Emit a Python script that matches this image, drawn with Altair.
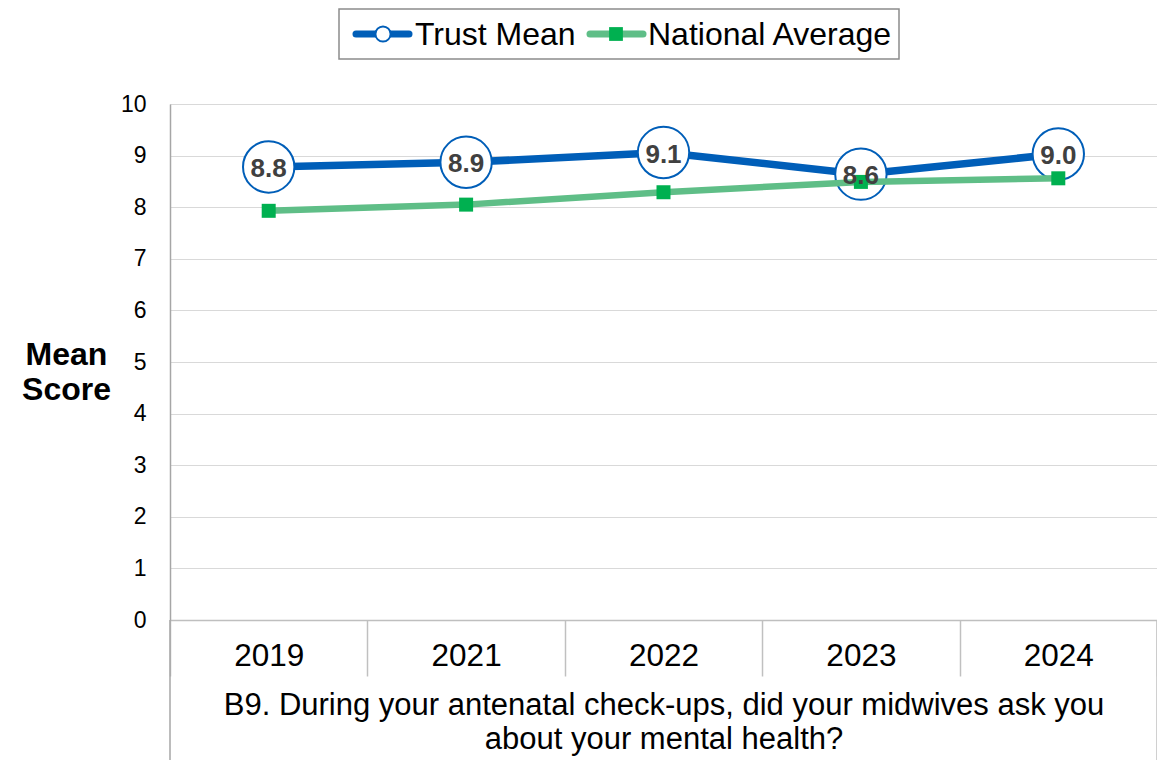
import altair as alt
import pandas as pd

# ---- data ----
years = ["2019", "2021", "2022", "2023", "2024"]
trust_mean = [8.78, 8.87, 9.06, 8.64, 9.03]
national_avg = [7.93, 8.05, 8.29, 8.49, 8.56]
series_names = ["Trust Mean", "National Average"]
question = ["B9. During your antenatal check-ups, did your midwives ask you",
            "about your mental health?"]
y_ticks = list(range(0, 11))

BLUE = "#005EB8"
GREEN_LINE = "#5FBE87"
GREEN_MARK = "#00B050"
FONT = "Liberation Sans"

df = pd.DataFrame({"year": years, "trust": trust_mean, "national": national_avg})

W, H = 987, 516

x_axis = alt.Axis(
    title=question, titleFontSize=31, titleFontWeight="normal", titleColor="black",
    titleLineHeight=34, titleBaseline="top", titleY=70, titleFont=FONT,
    labelAngle=0, labelFontSize=31.5, labelColor="black", labelBaseline="middle",
    labelFont=FONT, labelPadding=-20,
    tickBand="extent", tickSize=56, tickColor="#c0c0c0", tickWidth=1.5,
    domainColor="#bfbfbf", domainWidth=1.5, grid=False,
)
x_enc = alt.X("year:O", sort=years, bandPosition=0.5,
              scale=alt.Scale(type="band", paddingInner=0, paddingOuter=0),
              axis=x_axis)

y_axis = alt.Axis(
    values=y_ticks, grid=True, gridColor="#d9d9d9", gridWidth=1,
    domainColor="#a6a6a6", domainWidth=1.5, ticks=False,
    labelFontSize=23, labelColor="black", labelPadding=24, labelFont=FONT,
    title=["Mean", "Score"], titleFontSize=32, titleFontWeight="bold",
    titleAngle=0, titleAlign="center", titleBaseline="middle",
    titleX=-104, titleY=250, titleLineHeight=35, titleColor="black", titleFont=FONT,
)
y_scale = alt.Scale(domain=[0, 10], nice=False)


def y_enc(field):
    return alt.Y(f"{field}:Q", scale=y_scale, axis=y_axis)


base = alt.Chart(df)

trust_line = base.mark_line(color=BLUE, strokeWidth=7.5, strokeJoin="round").encode(
    x=x_enc, y=y_enc("trust"))
trust_pts = base.mark_point(shape="circle", size=2640, filled=True, fill="white",
                            stroke=BLUE, strokeWidth=2, opacity=1).encode(
    x=x_enc, y=y_enc("trust"))
nat_line = base.mark_line(color=GREEN_LINE, strokeWidth=6.5, strokeJoin="round").encode(
    x=x_enc, y=y_enc("national"))
nat_pts = base.mark_point(shape="square", size=196, filled=True, color=GREEN_MARK,
                          opacity=1).encode(
    x=x_enc, y=y_enc("national"))
labels = base.mark_text(font=FONT, fontSize=26, fontWeight="bold", color="#404040",
                        baseline="middle", dy=2).encode(
    x=x_enc, y=y_enc("trust"), text=alt.Text("trust:Q", format=".1f"))

one = alt.Data(values=[{"k": 1}])

# frame lines of the category area below the plot
edge_left = alt.Chart(one).mark_rule(color="#a6a6a6", strokeWidth=1.5).encode(
    x=alt.value(0), y=alt.value(H), y2=alt.value(H + 160))
edge_right = alt.Chart(one).mark_rule(color="#c0c0c0", strokeWidth=1.5).encode(
    x=alt.value(W), y=alt.value(H), y2=alt.value(H + 160))

# legend (drawn by hand because each symbol combines a line and a marker)
LY = -70
leg_box = alt.Chart(one).mark_rect(fill="white", stroke="#8c8c8c", strokeWidth=1.5).encode(
    x=alt.value(169), x2=alt.value(729), y=alt.value(-95), y2=alt.value(-45))
leg_line1 = alt.Chart(one).mark_rule(color=BLUE, strokeWidth=7, strokeCap="round").encode(
    x=alt.value(186), x2=alt.value(239), y=alt.value(LY))
leg_pt1 = alt.Chart(one).mark_point(shape="circle", size=230, filled=True, fill="white",
                                    stroke=BLUE, strokeWidth=2, opacity=1).encode(
    x=alt.value(213), y=alt.value(LY))
leg_txt1 = alt.Chart(alt.Data(values=[{"name": series_names[0]}])).mark_text(
    font=FONT, fontSize=32, align="left", baseline="middle", color="black").encode(
    x=alt.value(245), y=alt.value(LY + 1), text="name:N")
leg_line2 = alt.Chart(one).mark_rule(color=GREEN_LINE, strokeWidth=7, strokeCap="round").encode(
    x=alt.value(420), x2=alt.value(473), y=alt.value(LY))
leg_pt2 = alt.Chart(one).mark_point(shape="square", size=190, filled=True, color=GREEN_MARK,
                                    opacity=1).encode(
    x=alt.value(446), y=alt.value(LY))
leg_txt2 = alt.Chart(alt.Data(values=[{"name": series_names[1]}])).mark_text(
    font=FONT, fontSize=32, align="left", baseline="middle", color="black").encode(
    x=alt.value(478), y=alt.value(LY + 1), text="name:N")

chart = alt.layer(
    trust_line, trust_pts, nat_line, nat_pts, labels,
    edge_left, edge_right,
    leg_box, leg_line1, leg_pt1, leg_txt1, leg_line2, leg_pt2, leg_txt2,
).properties(
    width=W, height=H,
    autosize=alt.AutoSizeParams(type="none"),
    padding={"left": 162, "top": 96, "right": 0, "bottom": 140},
).configure_view(stroke=None).configure(font=FONT)

chart.save("out.html", embed_options={"renderer": "svg", "actions": False})
